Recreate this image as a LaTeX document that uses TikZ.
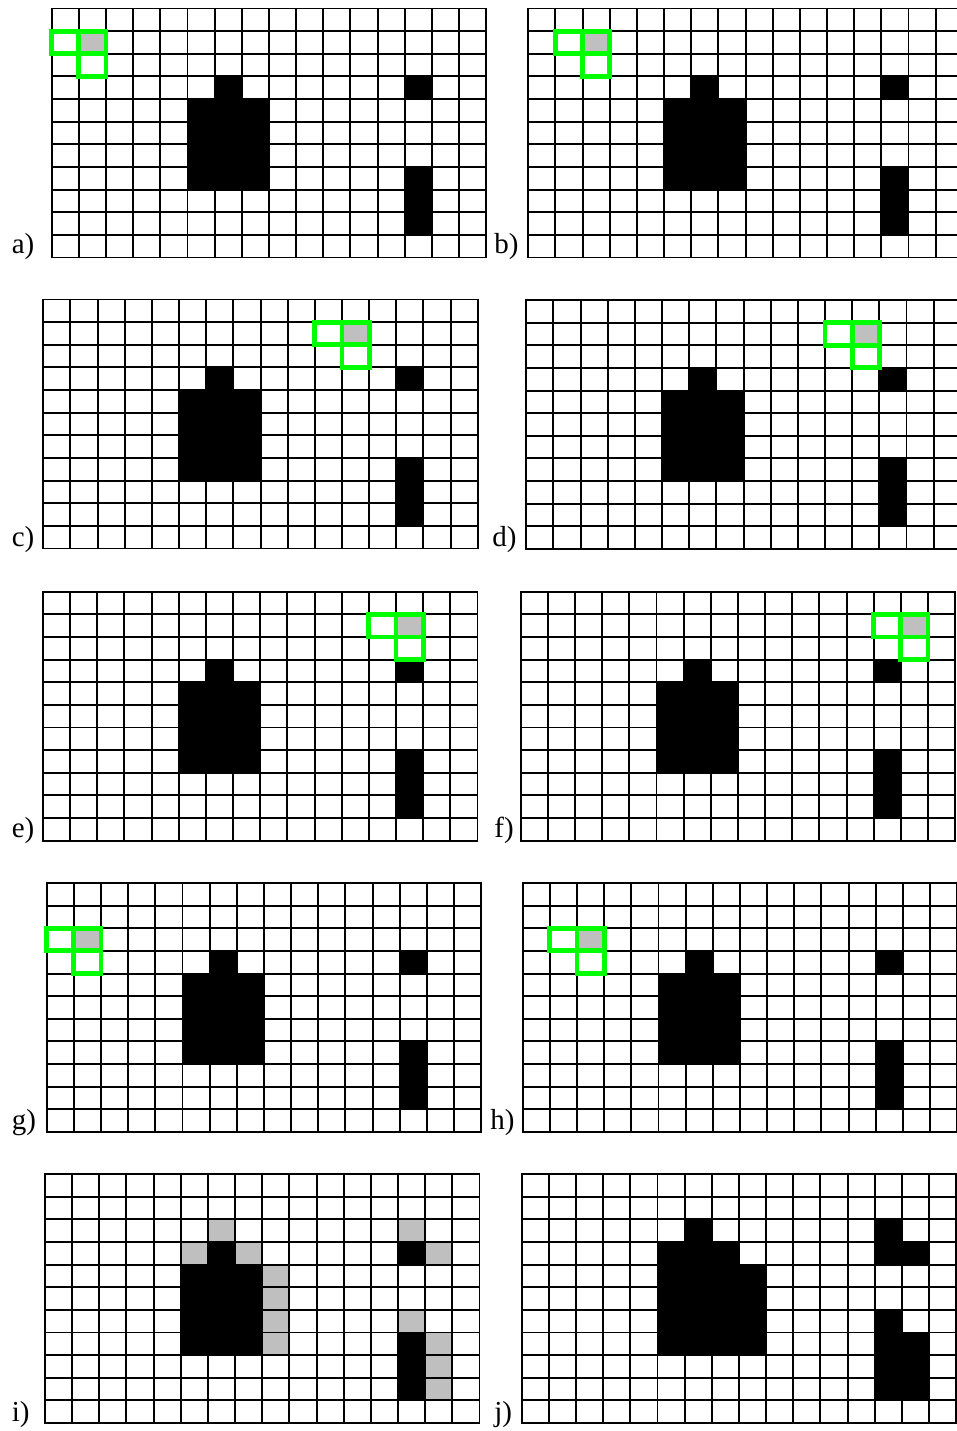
\documentclass[tikz,border=0pt]{standalone}
\usepackage{fontspec}
\setmainfont{Liberation Serif}

\definecolor{probegreen}{RGB}{0,255,0}
\definecolor{visited}{gray}{0.75}

\tikzset{
    gridline/.style={line width=1.1pt},
    graycell/.style={fill=visited},
    probebox/.style={draw=probegreen, line width=2.8pt},
    tag/.style={anchor=base west, inner sep=0pt, font=\fontsize{16.5}{19}\selectfont}
}

% 一个 16x11 的网格面板：#1,#2 左上角 (px)，#3 填充，#4 网格之上的内容
\newcommand{\panel}[4]{%
    \begin{scope}[shift={(#1,#2)}, x=0.5432cm, y=-0.4528cm]
        #3
        \foreach \i in {1,...,15} \draw[gridline] (\i,0) -- (\i,11);
        \foreach \j in {1,...,10} \draw[gridline] (0,\j) -- (16,\j);
        \draw[gridline] (0,0) rectangle (16,11);
        #4
    \end{scope}}

% 原始的黑色物体
\newcommand{\blobs}{%
    \fill (6,3) rectangle (7,4);
    \fill (5,4) rectangle (8,8);
    \fill (13,3) rectangle (14,4);
    \fill (13,7) rectangle (14,10);}

% 结构元素：#1 行，#2 列（左格）
\newcommand{\window}[2]{%
    \draw[probebox] (#2,#1) rectangle ++(1,1);
    \draw[probebox] (#2+1,#1) rectangle ++(1,1);
    \draw[probebox] (#2+1,#1+1) rectangle ++(1,1);}
\newcommand{\origin}[2]{\fill[graycell] (#2+1,#1) rectangle ++(1,1);}

\begin{document}
\begin{tikzpicture}[x=0.02cm, y=-0.02cm]
    \useasboundingbox (0,0) rectangle (957,1431);
    \clip (0,0) rectangle (957,1431);
    \fill[white] (0,0) rectangle (957,1431);

    % 第一行：a) b)
    \panel{51.7}{8.5}{\blobs \origin{1}{0}}{\window{1}{0}}
    \panel{528.3}{8.5}{\blobs \origin{1}{1}}{\window{1}{1}}
    \node[tag] (tag-a) at (11.5,253.5) {a)};
    \node[tag] (tag-b) at (494,253.5) {b)};

    % 第二行：c) d)
    \panel{43.3}{299.5}{\blobs \origin{1}{10}}{\window{1}{10}}
    \panel{526.3}{300}{\blobs \origin{1}{11}}{\window{1}{11}}
    \node[tag] (tag-c) at (11.5,546) {c)};
    \node[tag] (tag-d) at (492,546) {d)};

    % 第三行：e) f)
    \panel{43}{591.7}{\blobs \origin{1}{12}}{\window{1}{12}}
    \panel{520.7}{591.7}{\blobs \origin{1}{13}}{\window{1}{13}}
    \node[tag] (tag-e) at (11.5,837.5) {e)};
    \node[tag] (tag-f) at (494,837.5) {f)};

    % 第四行：g) h)
    \panel{46.7}{883}{\blobs \origin{2}{0}}{\window{2}{0}}
    \panel{522.7}{883}{\blobs \origin{2}{1}}{\window{2}{1}}
    \node[tag] (tag-g) at (11.5,1129) {g)};
    \node[tag] (tag-h) at (490,1129) {h)};

    % i) 膨胀新增的灰色格子
    \panel{45}{1174}{%
        \blobs
        \fill[graycell] (6,2) rectangle (7,3);
        \fill[graycell] (5,3) rectangle (6,4);
        \fill[graycell] (7,3) rectangle (8,4);
        \fill[graycell] (8,4) rectangle (9,8);
        \fill[graycell] (13,2) rectangle (14,3);
        \fill[graycell] (14,3) rectangle (15,4);
        \fill[graycell] (13,6) rectangle (14,7);
        \fill[graycell] (14,7) rectangle (15,10);}{}
    \node[tag] (tag-i) at (11.5,1421) {i)};

    % j) 膨胀结果
    \panel{521.7}{1174}{%
        \fill (6,2) rectangle (7,3);
        \fill (5,3) rectangle (8,4);
        \fill (5,4) rectangle (9,8);
        \fill (13,2) rectangle (14,3);
        \fill (13,3) rectangle (15,4);
        \fill (13,6) rectangle (14,7);
        \fill (13,7) rectangle (15,10);}{}
    \node[tag] (tag-j) at (494,1421) {j)};
\end{tikzpicture}
\end{document}
